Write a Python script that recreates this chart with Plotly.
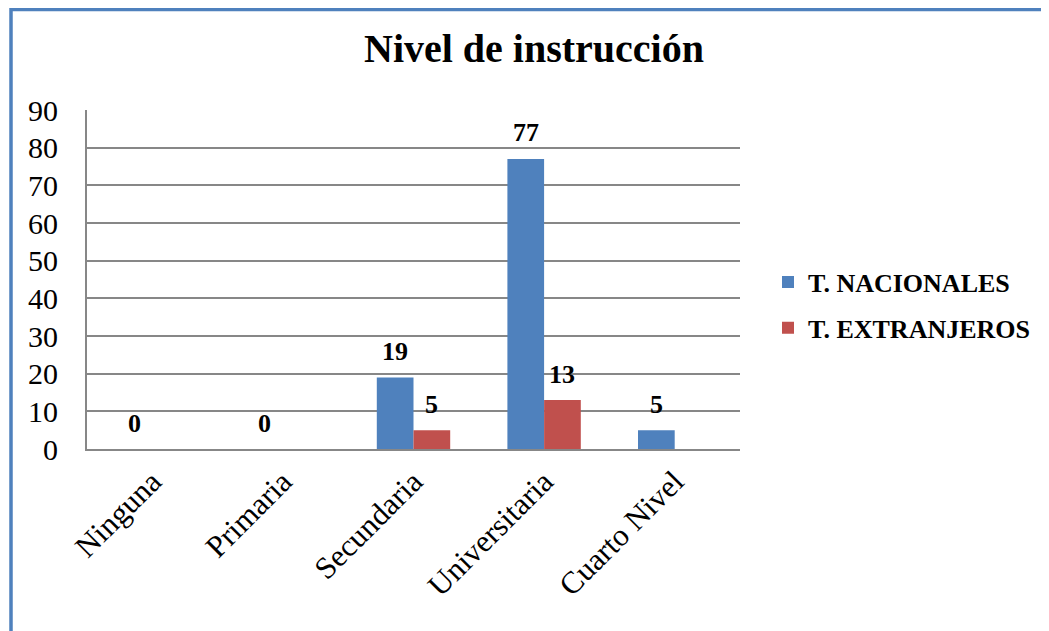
import plotly.graph_objects as go

categories = ["Ninguna", "Primaria", "Secundaria", "Universitaria", "Cuarto Nivel"]
nacionales = [0, 0, 19, 77, 5]
extranjeros = [None, None, 5, 13, None]
series_names = ["T. NACIONALES", "T. EXTRANJEROS"]
title_text = "Nivel de instrucción"
y_ticks = [0, 10, 20, 30, 40, 50, 60, 70, 80, 90]

FONT = "Liberation Serif, Times New Roman, serif"
BLUE = "#4F81BD"
RED = "#C0504D"
GRID = "#878787"

# page body has an 8px default margin; work in screen pixels and offset
OFF = 8
W, H = 1049 - OFF, 631 - OFF
PL, PR, PT, PB = 87, 740, 110, 449  # plot area in screen px
L, T = PL - OFF, PT - OFF
R, B = W - (PR - OFF), H - (PB - OFF)
pw, ph = W - L - R, H - T - B


def sx(px):
    return (px - OFF - L) / pw


def sy(py):
    return (H - B - (py - OFF)) / ph


fig = go.Figure()
fig.add_trace(go.Bar(x=categories, y=nacionales, name=series_names[0],
                     marker=dict(color=BLUE, line=dict(width=0)), legendgroup="a"))
fig.add_trace(go.Bar(x=categories, y=extranjeros, name=series_names[1],
                     marker=dict(color=RED, line=dict(width=0)), legendgroup="b"))

annotations = []
for vals, shift in ((nacionales, -18.3), (extranjeros, 18.3)):
    for cat, v in zip(categories, vals):
        if v is not None:
            annotations.append(dict(x=cat, y=v, xref="x", yref="y", text=f"<b>{v}</b>",
                                    showarrow=False, xshift=shift, yshift=26, yanchor="middle",
                                    font=dict(family=FONT, size=26, color="black")))

fig.update_layout(
    width=W, height=H,
    margin=dict(l=L, r=R, t=T, b=B, pad=0, autoexpand=False),
    paper_bgcolor="white", plot_bgcolor="white",
    barmode="group", bargap=0.438, bargroupgap=0,
    title=dict(text=f"<b>{title_text}</b>", x=sx(534), xref="paper",
               xanchor="center", y=1 - (48 - OFF) / H, yanchor="middle",
               font=dict(family=FONT, size=40, color="black")),
    font=dict(family=FONT, color="black"),
    showlegend=True,
    legend=dict(x=sx(768), xanchor="left", y=sy(305), yanchor="middle",
                font=dict(family=FONT, size=26, color="black", weight="bold"),
                traceorder="grouped", tracegroupgap=9, bgcolor="rgba(0,0,0,0)"),
    annotations=annotations,
    shapes=[dict(type="rect", xref="paper", yref="paper",
                 x0=sx(11), x1=sx(1100),
                 y0=sy(700), y1=sy(9.5),
                 line=dict(color=BLUE, width=3.5), fillcolor="rgba(0,0,0,0)", layer="above")],
)

fig.update_xaxes(showline=True, linecolor=GRID, linewidth=2, mirror=False,
                 showgrid=False, tickangle=-45, ticks="",
                 tickfont=dict(family=FONT, size=31, color="black"))
fig.update_yaxes(range=[0, 90], tickvals=y_ticks, showline=True, linecolor=GRID, linewidth=2,
                 showgrid=True, gridcolor=GRID, gridwidth=1.5, zeroline=False,
                 ticks="", ticklabelstandoff=21,
                 tickfont=dict(family=FONT, size=30, color="black"))

fig.write_html("out.html")
